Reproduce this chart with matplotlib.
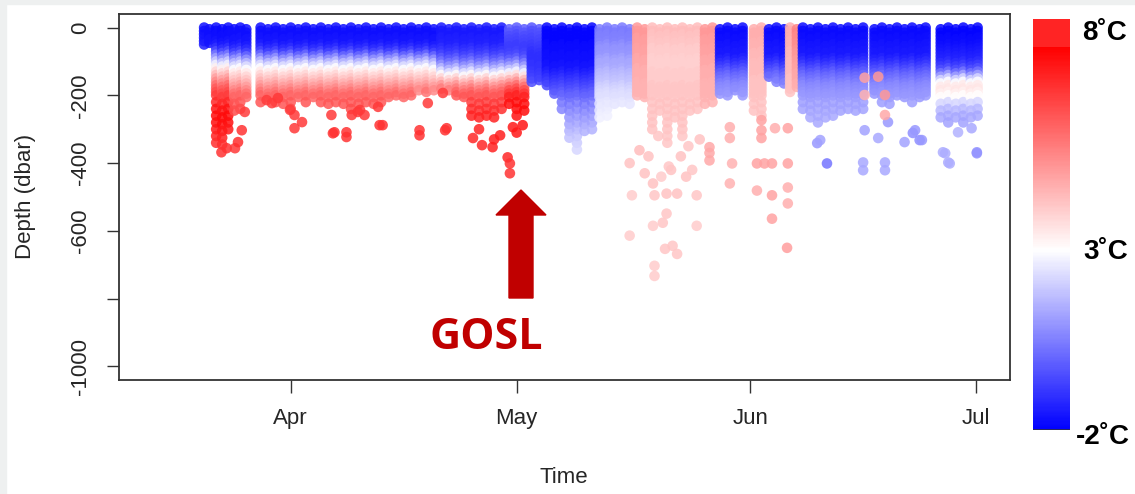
import matplotlib
matplotlib.use('Agg')
import numpy as np
import matplotlib.pyplot as plt
from matplotlib.patches import Polygon, Rectangle

plt.rcParams['font.family'] = ['Liberation Sans', 'DejaVu Sans']

W, H = 1135, 494


def fx(x):
    return x / W


def fy(y):
    return 1 - y / H


# Depth levels of the profiles (dbar); every other profile is sampled 5 dbar lower
levels = [0, 10, 20, 30, 40, 50, 60, 70, 80, 90, 100, 110, 120, 130, 140, 150, 160, 170, 180, 190, 200,
          220, 240, 260, 280, 300, 320, 340, 360, 380, 400]
level_shift = [0, 5]

# Temperature at each level (deg C) for the water types seen in the picture
t_A = [-1.7, -1.7, -1.7, -1.6, -1.6, -1.4, -1.1, -0.6, 0.1, 0.9, 1.7, 2.4, 3.0, 3.4, 3.8, 4.1, 4.5, 4.9, 5.3, 5.7, 6.0,
       6.3, 6.5, 6.6, 6.7, 6.8, 6.8, 6.9, 6.9, 6.9, 6.9]
t_A2 = [-1.8, -1.8, -1.7, -1.7, -1.6, -1.4, -1.0, -0.4, 0.4, 1.2, 2.0, 2.7, 3.3, 3.8, 4.3, 4.8, 5.3, 5.8, 6.2, 6.5, 6.8,
        7.2, 7.6, 7.8, 7.7, 7.5, 7.3, 7.1, 7.0, 7.0, 7.0]
t_B = [-1.5, -1.5, -1.5, -1.4, -1.4, -1.3, -1.1, -0.9, -0.6, -0.2, 0.3, 0.9, 1.6, 2.4, 3.1, 3.8, 4.4, 5.0, 5.5, 6.0, 6.3,
       6.8, 7.1, 7.3, 7.3, 7.2, 7.1, 7.0, 7.0, 7.0, 7.0]
t_B2 = [-0.2, -0.3, -0.5, -0.6, -0.7, -0.8, -0.8, -0.7, -0.5, -0.1, 0.5, 1.2, 2.0, 2.8, 3.6, 4.4, 5.1, 5.8, 6.4, 6.9, 7.3,
        7.7, 7.8, 7.6, 7.4, 7.2, 7.1, 7.0, 7.0, 7.0, 7.0]
t_C = [-1.9, -1.9, -1.9, -1.9, -1.9, -1.8, -1.8, -1.8, -1.7, -1.7, -1.7, -1.6, -1.6, -1.4, -1.2, -1.0, -0.8, -0.6, -0.4,
       -0.2, 0.0, 0.3, 0.6, 0.9, 1.2, 1.5, 1.8, 2.0, 2.2, 2.3, 2.4]
t_C1 = [-0.3, -0.4, -0.5, -0.6, -0.7, -0.8, -0.9, -1.0, -1.1, -1.1, -1.1, -1.0, -1.0, -0.9, -0.8, -0.7, -0.5, -0.3, -0.1,
        0.1, 0.3, 0.6, 0.9, 1.2, 1.5, 1.8, 2.0, 2.2, 2.3, 2.4, 2.5]
t_C2 = [0.4, 0.4, 0.5, 0.5, 0.6, 0.8, 0.9, 0.9, 1.0, 1.2, 1.3, 1.3, 1.4, 1.6, 1.7, 1.8, 1.9, 2.1, 2.2, 2.3, 2.4,
        2.5, 2.6, 2.7, 2.7, 2.8, 2.8, 2.9, 2.9, 3.0, 3.0]
t_D = [4.3, 4.3, 4.2, 4.2, 4.1, 4.1, 4.0, 4.0, 4.0, 3.9, 3.9, 3.9, 3.9, 4.0, 4.0, 4.0, 4.0, 4.1, 4.1, 4.1, 4.1,
       4.2, 4.2, 4.2, 4.2, 4.2, 4.1, 4.1, 4.1, 4.1, 4.1]
t_D2 = [5.0, 5.0, 5.0, 4.9, 4.9, 4.9, 4.8, 4.8, 4.8, 4.7, 4.7, 4.7, 4.6, 4.6, 4.6, 4.6, 4.5, 4.5, 4.5, 4.5, 4.5,
        4.5, 4.5, 4.5, 4.5, 4.5, 4.5, 4.5, 4.5, 4.5, 4.5]
t_E = [-1.8, -1.8, -1.8, -1.7, -1.7, -1.6, -1.6, -1.5, -1.5, -1.3, -1.1, -0.8, -0.5, -0.2, 0.1, 0.3, 0.5, 0.7, 0.8, 0.9,
       1.0, 1.1, 1.2, 1.3, 1.3, 1.4, 1.4, 1.5, 1.5, 1.5, 1.5]
t_E2 = [-1.9, -1.9, -1.9, -1.8, -1.8, -1.7, -1.6, -1.5, -1.4, -1.3, -1.1, -0.8, -0.4, 0.3, 1.2, 2.2, 3.0, 3.4, 3.5, 3.3,
        3.0, 2.2, 1.6, 1.3, 1.2, 1.2, 1.2, 1.2, 1.2, 1.2, 1.2]
t_F = [4.6, 4.6, 4.6, 4.6, 4.5, 4.5, 4.5, 4.4, 4.4, 4.4, 4.3, 4.3, 4.3, 4.3, 4.3, 4.2, 4.2, 4.2, 4.2, 4.2, 4.2,
       4.2, 4.2, 4.2, 4.2, 4.2, 4.2, 4.2, 4.2, 4.2, 4.2]
t_F2 = [5.4, 5.4, 5.3, 5.3, 5.2, 5.2, 5.1, 5.0, 5.0, 4.9, 4.9, 4.8, 4.8, 4.7, 4.7, 4.7, 4.6, 4.6, 4.6, 4.6, 4.6,
        4.6, 4.6, 4.6, 4.6, 4.6, 4.6, 4.6, 4.6, 4.6, 4.6]

# Profiles: day (0 = 1 April), water type, deepest level of the dense part (dbar)
prof_day = [-11.5, -10.8, -9.9, -9.1, -8.3, -7.5, -6.7, -5.9,
            -4, -3, -2, -1, 0, 1, 2, 3, 4, 5, 6, 7, 8, 9, 10, 11, 12, 13, 14, 15, 16, 17, 18, 19,
            20, 21, 22, 23, 24, 25, 26, 27, 28, 29, 30, 31,
            32, 33, 34, 35, 36, 37, 38, 39, 40, 41, 42, 43, 44, 45,
            46, 47, 48, 49, 50, 51, 52, 53, 54, 55, 56,
            57, 58, 59, 60, 61.5, 62.5, 63.5, 64.5, 65.5, 66.3, 67.2, 68, 69, 70, 71, 72, 73, 74, 75, 76,
            77.5, 78.5, 79.5, 80.5, 81.5, 82.5, 83.5, 84.3,
            86.3, 87.3, 88.3, 89.3, 90.3, 91.2]
prof_type = ['A', 'A', 'A2', 'A2', 'A2', 'A', 'A', 'A',
             'A', 'A', 'A', 'A', 'A', 'A', 'A', 'A', 'A', 'A', 'A', 'A', 'A', 'A', 'A', 'A', 'A', 'A', 'A', 'A',
             'A', 'A', 'A', 'A',
             'B', 'B', 'B', 'B', 'B', 'B', 'B', 'B', 'B', 'B2', 'B2', 'B2',
             'C1', 'C1', 'C', 'C', 'C', 'C', 'C', 'C', 'C', 'C2', 'C2', 'C2', 'C2', 'C2',
             'D2', 'D2', 'D', 'D', 'D', 'D', 'D', 'D', 'D', 'D2', 'D2',
             'E', 'E', 'E', 'E', 'F', 'F', 'E', 'E', 'E', 'F', 'F2', 'E', 'E', 'E', 'E', 'E', 'E', 'E', 'E', 'E',
             'E', 'E', 'E', 'E', 'E', 'E', 'E', 'E',
             'E2', 'E2', 'E2', 'E2', 'E2', 'E2']
prof_bottom = [50, 50, 340, 360, 300, 260, 240, 220,
               230, 215, 220, 230, 240, 220, 230, 215, 230, 240, 230, 225, 240, 230, 220, 230, 225, 220, 200, 210,
               200, 190, 195, 190,
               185, 190, 200, 210, 260, 280, 260, 280, 250, 240, 260, 250,
               160, 160, 175, 200, 250, 340, 360, 320, 300, 280, 260, 240, 220, 240,
               200, 220, 300, 260, 340, 280, 320, 260, 240, 230, 220,
               200, 210, 190, 200, 260, 260, 150, 160, 170, 190, 180, 240, 280, 290, 280, 270, 260, 250, 250, 240,
               200, 220, 230, 210, 220, 230, 220, 200,
               280, 280, 270, 280, 270, 260]

# Isolated deeper measurements
deep_day = [-9.2, -8.5, -7.4, -6.5, -6.1, -7.0,
            -3.2, -2.5, -1.7, -0.1, 0.5, 0.5, 1.5,
            5.4, 5.8, 5.6, 7.4, 7.4, 8.1, 8.9, 9.2, 9.8, 11.6, 11.8, 12.2,
            17.1, 17.1, 18.2, 20.2, 20.5, 20.7,
            24.2, 25.4, 26.8, 27.8, 28.8, 29.1, 29.1, 29.5, 30.8, 25.0, 27.0, 30.0,
            45.0, 45.0, 45.3, 46.3, 47.0, 48.1, 48.1, 48.3, 48.3, 48.3, 49.4, 49.7, 49.9, 49.9, 50.5, 50.7,
            51.3, 51.3, 52.5, 53.9, 53.9, 55.6, 55.6, 55.6,
            48.8, 50.2, 51.8, 52.8, 53.3, 49.2, 47.5, 54.3,
            58.3, 58.3, 58.6, 58.3, 62.5, 62.5, 62.5, 61.9, 62.9, 63.9, 61.9, 63.9, 63.9,
            66.0, 66.0, 66.0, 66.0, 65.9, 64.3,
            69.9, 70.3, 71.2, 76.0, 76.0, 76.2, 78.0, 78.9, 78.9, 79.3, 81.5, 82.6, 82.9, 83.5, 83.8,
            86.6, 86.9, 87.3, 87.5, 88.6, 90.4, 91.1, 91.1,
            76.2, 76.2, 78.0, 78.9, 78.9]
deep_depth = [-368, -356, -356, -303, -249, -338,
              -214, -223, -208, -243, -258, -297, -279,
              -258, -309, -312, -309, -323, -258, -249, -243, -258, -234, -288, -288,
              -303, -318, -223, -193, -303, -297,
              -326, -347, -353, -318, -383, -401, -430, -294, -288, -300, -330, -310,
              -400, -614, -495, -362, -430, -460, -585, -495, -703, -733, -576, -653, -490, -549, -420, -644,
              -490, -668, -440, -495, -585, -353, -392, -370,
              -320, -410, -380, -350, -420, -440, -380, -330,
              -294, -326, -401, -460, -273, -303, -326, -401, -401, -401, -481, -495, -564,
              -297, -401, -472, -519, -650, -297,
              -341, -332, -401, -398, -421, -303, -326, -398, -421, -279, -338, -311, -303, -332, -332,
              -368, -371, -398, -401, -309, -297, -368, -371,
              -148, -199, -145, -199, -258]
deep_temp = [7.0, 7.0, 6.9, 7.0, 6.8, 7.1,
             6.8, 6.8, 6.9, 6.8, 6.9, 6.9, 6.9,
             6.9, 7.0, 7.0, 7.0, 7.0, 6.9, 6.9, 6.9, 6.9, 6.9, 7.0, 7.0,
             7.0, 7.0, 6.9, 6.8, 7.0, 7.0,
             7.2, 7.2, 7.3, 7.4, 7.2, 7.0, 7.0, 7.5, 7.6, 7.3, 7.4, 7.5,
             4.2, 4.0, 4.0, 4.3, 4.2, 4.2, 4.0, 4.1, 4.0, 4.0, 4.1, 4.1, 4.2, 4.1, 4.2, 4.1,
             4.2, 4.1, 4.2, 4.1, 4.0, 4.7, 4.7, 4.7,
             4.1, 4.1, 4.2, 4.1, 4.1, 4.0, 4.2, 4.2,
             4.6, 4.6, 4.5, 4.5, 4.8, 4.8, 4.8, 4.8, 4.8, 4.8, 4.6, 4.8, 4.8,
             4.8, 4.8, 4.6, 4.6, 4.9, 4.6,
             1.0, 1.2, 0.3, 1.3, 1.3, 1.2, 1.3, 1.3, 1.3, 1.0, 1.2, 0.8, 1.0, 0.8, 1.0,
             1.4, 1.4, 1.4, 1.4, 1.5, 1.3, 0.9, 0.9,
             4.8, 4.5, 5.0, 5.0, 4.7]

type_temps = {'A': t_A, 'A2': t_A2, 'B': t_B, 'B2': t_B2, 'C': t_C, 'C1': t_C1, 'C2': t_C2,
              'D': t_D, 'D2': t_D2, 'E': t_E, 'E2': t_E2, 'F': t_F, 'F2': t_F2}

xs, ys, cs = [], [], []
for i, (d, k, b) in enumerate(zip(prof_day, prof_type, prof_bottom)):
    shift = level_shift[i % 2]
    for lev, t in zip(levels, type_temps[k]):
        if lev + shift <= b:
            xs.append(d)
            ys.append(-(lev + shift))
            cs.append(t)
xs += deep_day
ys += deep_depth
cs += deep_temp

fig = plt.figure(figsize=(W / 100, H / 100), dpi=100)
fig.patch.set_facecolor('white')
fig.patches.append(Rectangle((0, fy(4)), 1, 1 - fy(4), transform=fig.transFigure, color='#eef0f0', zorder=0))
fig.patches.append(Rectangle((0, 0), fx(6), 1, transform=fig.transFigure, color='#eef0f0', zorder=0))

ax = fig.add_axes([fx(119), fy(380), fx(1010) - fx(119), fy(14) - fy(380)])
ax.scatter(xs, ys, c=cs, cmap='bwr', vmin=-2, vmax=8, s=58, alpha=0.85, linewidths=0)
ax.set_xlim(-22.8, 95.5)
ax.set_ylim(-1040, 40)
ax.set_xticks([0, 30, 61, 91], ['Apr', 'May', 'Jun', 'Jul'])
ax.set_yticks([0, -200, -400, -600, -800, -1000], ['0', '-200', '-400', '-600', '', '-1000'])
plt.setp(ax.get_yticklabels(), rotation=90, va='center')
ax.tick_params(length=9, width=1, color='#333333', pad=11, labelsize=16, labelcolor='#262626')
for sp in ax.spines.values():
    sp.set_color('#333333')
    sp.set_linewidth(1.3)

fig.text(fx(564), fy(477), 'Time', ha='center', va='center', fontsize=16, color='#262626')
fig.text(fx(25), fy(196), 'Depth (dbar)', ha='center', va='center', rotation=90, fontsize=16, color='#262626')

# GOSL annotation
arrow = Polygon([(fx(521), fy(190)), (fx(546), fy(215)), (fx(533), fy(215)), (fx(533), fy(298)),
                 (fx(509), fy(298)), (fx(509), fy(215)), (fx(496), fy(215))],
                closed=True, transform=fig.transFigure, color='#c00000', zorder=5)
fig.patches.append(arrow)
fig.text(fx(486), fy(337), 'GOSL', ha='center', va='center', fontsize=31, fontweight='bold',
         color='#c00000', family=['Open Sans', 'DejaVu Sans'])

# colour bar
cax = fig.add_axes([fx(1033), fy(430), fx(1070) - fx(1033), fy(19) - fy(430)])
edges = np.linspace(430, 47, 300)
centers = (edges[:-1] + edges[1:]) / 2
vals = np.interp(centers, [47, 250, 430], [8, 3, -2])
cax.pcolormesh([0, 1], edges, vals[:, None], cmap='bwr', vmin=-2, vmax=8, shading='flat')
cax.add_patch(Rectangle((0, 19), 1, 28, color='#ff2424', lw=0))
cax.set_xlim(0, 1)
cax.set_ylim(430, 19)
cax.set_xticks([])
cax.set_yticks([])
for sp in cax.spines.values():
    sp.set_visible(False)
cax.axhline(429.5, color='#334', lw=1.2)

fig.text(fx(1082), fy(33), '8˚C', ha='left', va='center', fontsize=20, fontweight='bold', color='black')
fig.text(fx(1083), fy(252), '3˚C', ha='left', va='center', fontsize=20, fontweight='bold', color='black')
fig.text(fx(1076), fy(437), '-2˚C', ha='left', va='center', fontsize=20, fontweight='bold', color='black')

fig.savefig('out.png', dpi=100)
